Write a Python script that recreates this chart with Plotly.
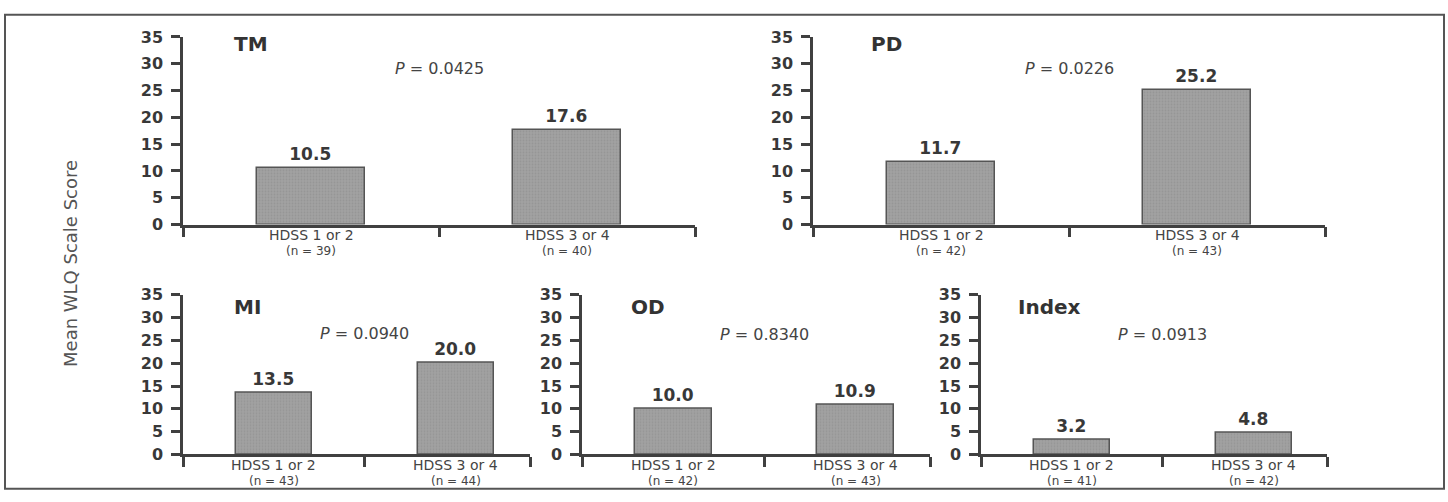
import plotly.graph_objects as go

# ---------------- data ----------------
panel_names = ["TM", "PD", "MI", "OD", "Index"]
group_labels = ["HDSS 1 or 2", "HDSS 3 or 4"]
tm_values = [10.5, 17.6]
pd_values = [11.7, 25.2]
mi_values = [13.5, 20.0]
od_values = [10.0, 10.9]
index_values = [3.2, 4.8]
tm_n = [39, 40]
pd_n = [42, 43]
mi_n = [43, 44]
od_n = [42, 43]
index_n = [41, 42]
p_values = ["0.0425", "0.0226", "0.0940", "0.8340", "0.0913"]
y_ticks = [0, 5, 10, 15, 20, 25, 30, 35]
y_title = "Mean WLQ Scale Score"

values = [tm_values, pd_values, mi_values, od_values, index_values]
ns = [tm_n, pd_n, mi_n, od_n, index_n]

# ---------------- layout geometry (pixels) ----------------
W, H = 1448, 502
x_px = [(183, 695), (813, 1325), (183, 530), (582, 930), (981, 1327)]
x_ranges = [(-0.5, 1.5), (-0.5, 1.5), (-0.5, 1.407), (-0.5, 1.407), (-0.5, 1.402)]
row_y_px = [(29, 224), (29, 224), (297, 463), (297, 463), (297, 463)]
title_x = [-0.31, -0.28, -0.23, -0.24, -0.31]
title_y = [33.6, 33.6, 32.3, 32.3, 32.3]
p_y = [29.1, 29.1, 26.4, 26.3, 26.3]

TXT = "#383838"
AX = "#404040"
BOLD = "DejaVu Sans"
REG = "DejaVu Sans"

fig = go.Figure()
layout = dict(
    width=W, height=H, margin=dict(l=0, r=0, t=0, b=0),
    paper_bgcolor="white", plot_bgcolor="white", showlegend=False,
    font=dict(family=REG, color=TXT),
    bargap=0,
)
annotations = []

for i in range(5):
    k = "" if i == 0 else str(i + 1)
    xa, ya = "x" + k, "y" + k
    fig.add_trace(go.Bar(
        x=[0, 1], y=values[i], xaxis=xa, yaxis=ya, width=0.42,
        marker=dict(color="#a2a2a2", line=dict(color="#555555", width=1.5),
                    pattern=dict(shape=".", fgcolor="#878787", size=3, solidity=0.3)),
        text=[f"{v:.1f}" for v in values[i]], textposition="outside",
        textfont=dict(family=BOLD, size=17, color=TXT, weight=700),
        cliponaxis=False, hoverinfo="skip",
    ))
    x0p, x1p = x_px[i]
    y0p, y1p = row_y_px[i]
    layout["xaxis" + k] = dict(
        domain=[x0p / W, x1p / W], range=list(x_ranges[i]), anchor=ya,
        showline=True, linecolor=AX, linewidth=2.5, showgrid=False, zeroline=False,
        tickmode="array", tickvals=[0, 1], ticktext=["", ""], ticks="",
        minor=dict(tickmode="array", tickvals=[x_ranges[i][0], 0.5, x_ranges[i][1]],
                   ticks="outside", ticklen=10, tickwidth=2.5, tickcolor=AX, showgrid=False),
        fixedrange=True,
    )
    layout["yaxis" + k] = dict(
        domain=[1 - y1p / H, 1 - y0p / H], range=[0, 35], anchor=xa,
        showline=True, linecolor=AX, linewidth=2.5, showgrid=False, zeroline=False,
        tickmode="array", tickvals=y_ticks, ticks="outside", ticklen=9, tickwidth=2.5,
        tickcolor=AX, ticklabelstandoff=5,
        tickfont=dict(family=BOLD, size=16, color=TXT, weight=700),
        fixedrange=True,
    )
    for j in range(2):
        annotations.append(dict(
            x=j, y=0, xref=xa, yref=ya, text=group_labels[j], showarrow=False,
            xanchor="center", yanchor="middle", yshift=-10.5,
            font=dict(family=REG, size=14, color="#444")))
        annotations.append(dict(
            x=j, y=0, xref=xa, yref=ya, text=f"(n = {ns[i][j]})", showarrow=False,
            xanchor="center", yanchor="middle", yshift=-26.5,
            font=dict(family=REG, size=12, color="#444")))
    annotations.append(dict(
        x=title_x[i], y=title_y[i], xref=xa, yref=ya, text=panel_names[i],
        showarrow=False, xanchor="left", yanchor="middle",
        font=dict(family=BOLD, size=20, color="#333", weight=700)))
    annotations.append(dict(
        x=0.5, y=p_y[i], xref=xa, yref=ya, text=f"<i>P</i> = {p_values[i]}",
        showarrow=False, xanchor="center", yanchor="middle",
        font=dict(family=REG, size=16, color="#444")))

annotations.append(dict(
    x=71 / W, y=1 - 265 / H, xref="paper", yref="paper", text=y_title,
    textangle=-90, showarrow=False, xanchor="center", yanchor="middle",
    font=dict(family=REG, size=18, color="#555")))

layout["annotations"] = annotations
layout["shapes"] = [dict(type="rect", xref="paper", yref="paper",
                         x0=5 / W, x1=1444 / W, y0=1 - 498.5 / H, y1=1 - 6 / H,
                         line=dict(color="#555", width=2))]
fig.update_layout(**layout)
fig.write_html("out.html", config={"displayModeBar": False},
               post_script="document.body.style.margin='0';document.body.style.overflow='hidden';")
